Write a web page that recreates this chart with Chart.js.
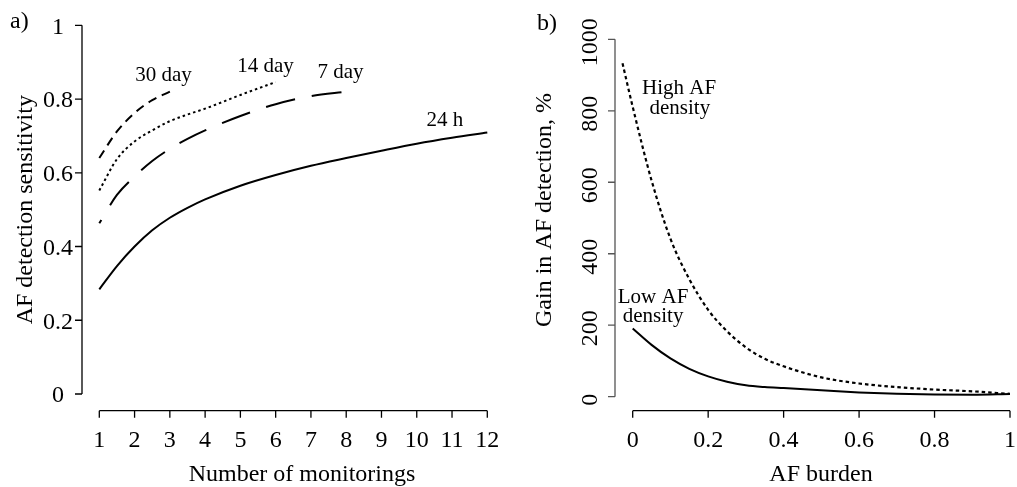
<!DOCTYPE html>
<html lang="en">
<head>
  <meta charset="UTF-8" />
  <title>AF detection sensitivity</title>
  <script src="https://cdn.jsdelivr.net/npm/chart.js"></script>
  <style>
    body { margin: 0; background: #fff; }
    .painel { position: relative; width: 1017px; height: 487px; }
    canvas { position: absolute; left: 0; top: 0; }
  </style>
</head>
<body>
  <div class="painel">
    <canvas id="graficoA" width="1017" height="487"></canvas>
    <canvas id="graficoB" width="1017" height="487"></canvas>
  </div>

  <script>
    // panel a) - sensitivity vs number of monitorings
    const monitorings = [1, 1.5, 2, 2.5, 3, 3.5, 4, 5, 6, 7, 8, 9, 10, 11, 12];
    const sens24h = [0.284, 0.347, 0.4, 0.444, 0.478, 0.505, 0.528, 0.565, 0.594, 0.619, 0.64, 0.66, 0.679, 0.695, 0.709];
    const sens7d  = [0.463, 0.54, 0.59, 0.632, 0.665, 0.692, 0.715, 0.754, 0.786, 0.808, 0.82];
    const sens14d = [0.552, 0.637, 0.685, 0.715, 0.74, 0.758, 0.774, 0.811, 0.846];
    const sens30d = [0.64, 0.712, 0.762, 0.797, 0.82];
    const ticksXa = ['1', '2', '3', '4', '5', '6', '7', '8', '9', '10', '11', '12'];
    const ticksYa = ['0', '0.2', '0.4', '0.6', '0.8', '1'];

    // panel b) - gain vs AF burden
    const burden   = [-0.027, 0, 0.05, 0.1, 0.15, 0.2, 0.25, 0.3, 0.35, 0.4, 0.5, 0.6, 0.7, 0.8, 0.9, 1];
    const gainHigh = [933, 811, 605, 442, 329, 243, 183, 138, 106, 85, 54, 37, 27, 20, 15, 8];
    const gainLow  = [null, 191, 145, 107, 78, 57, 42, 32, 27, 24, 18, 12, 8, 6, 5.5, 7.5];
    const ticksXb = ['0', '0.2', '0.4', '0.6', '0.8', '1'];
    const ticksYb = ['0', '200', '400', '600', '800', '1000'];

    const serif = "'Liberation Serif', 'Times New Roman', serif";

    function pontos(xs, ys) {
      return ys.map((y, i) => ({ x: xs[i], y: y }));
    }

    function serie(xs, ys, dash, largura, offset) {
      return {
        data: pontos(xs, ys),
        borderColor: '#000',
        borderWidth: largura || 2,
        borderDash: dash || [],
        borderDashOffset: offset || 0,
        pointRadius: 0,
        fill: false,
        clip: false,
        spanGaps: false,
        cubicInterpolationMode: 'monotone'
      };
    }

    // draws R-like detached axes, tick labels, titles and curve labels
    function eixos(o) {
      return {
        id: 'eixos',
        afterDraw(chart) {
          const ctx = chart.ctx;
          const sx = chart.scales.x, sy = chart.scales.y;
          const area = chart.chartArea;
          const ax = area.left - o.gapY;
          const ay = area.bottom + o.gapX;
          ctx.save();
          ctx.fillStyle = '#000';
          ctx.lineWidth = 1.3;

          // y axis
          ctx.strokeStyle = o.corY || '#000';
          ctx.beginPath();
          const yv = o.yLabels.map(Number);
          ctx.moveTo(ax, sy.getPixelForValue(yv[0]));
          ctx.lineTo(ax, sy.getPixelForValue(yv[yv.length - 1]));
          yv.forEach(v => {
            const p = sy.getPixelForValue(v);
            ctx.moveTo(ax, p);
            ctx.lineTo(ax - 7, p);
          });
          ctx.stroke();

          // x axis
          ctx.strokeStyle = '#000';
          ctx.beginPath();
          const xv = o.xLabels.map(Number);
          ctx.moveTo(sx.getPixelForValue(xv[0]), ay);
          ctx.lineTo(sx.getPixelForValue(xv[xv.length - 1]), ay);
          xv.forEach(v => {
            const p = sx.getPixelForValue(v);
            ctx.moveTo(p, ay);
            ctx.lineTo(p, ay + 7);
          });
          ctx.stroke();

          ctx.font = '24px ' + serif;
          ctx.textAlign = 'center';
          ctx.textBaseline = 'alphabetic';
          o.xLabels.forEach(t => {
            ctx.fillText(t, sx.getPixelForValue(Number(t)), ay + 36);
          });

          if (o.yRotated) {
            o.yLabels.forEach(t => {
              const p = sy.getPixelForValue(Number(t));
              ctx.save();
              ctx.translate(ax - 18.5, p + 3);
              ctx.rotate(-Math.PI / 2);
              ctx.fillText(t, 0, 0);
              ctx.restore();
            });
          } else {
            ctx.textBaseline = 'middle';
            o.yLabels.forEach(t => {
              ctx.fillText(t, ax - 24, sy.getPixelForValue(Number(t)) + 2);
            });
            ctx.textBaseline = 'alphabetic';
          }

          // titles
          ctx.fillText(o.tituloX, o.tituloXpos[0], o.tituloXpos[1]);
          ctx.save();
          ctx.translate(o.tituloYpos[0], o.tituloYpos[1]);
          ctx.rotate(-Math.PI / 2);
          ctx.fillText(o.tituloY, 0, 0);
          ctx.restore();

          ctx.textAlign = 'left';
          ctx.fillText(o.painel, o.painelPos[0], o.painelPos[1]);

          // curve labels
          ctx.font = '21px ' + serif;
          ctx.textAlign = 'center';
          o.notas.forEach(n => {
            ctx.fillText(n.texto, sx.getPixelForValue(n.x), sy.getPixelForValue(n.y));
          });
          ctx.restore();
        }
      };
    }

    function opcoes(xmin, xmax, ymin, ymax, pad) {
      return {
        responsive: false,
        animation: false,
        events: [],
        layout: { padding: pad },
        plugins: { legend: { display: false }, tooltip: { enabled: false } },
        scales: {
          x: { type: 'linear', min: xmin, max: xmax, display: false },
          y: { type: 'linear', min: ymin, max: ymax, display: false }
        }
      };
    }

    new Chart(document.getElementById('graficoA'), {
      type: 'line',
      data: {
        datasets: [
          serie(monitorings, sens24h, [], 2),
          serie(monitorings, sens7d, [30, 17], 2, 26),
          serie(monitorings, sens14d, [2.5, 3], 2),
          serie(monitorings, sens30d, [9, 6], 2)
        ]
      },
      options: opcoes(1, 12, 0, 1, { left: 99.3, right: 529.7, top: 25.3, bottom: 93 }),
      plugins: [eixos({
        gapY: 17.3, gapX: 16.7,
        xLabels: ticksXa, yLabels: ticksYa, yRotated: false,
        tituloX: 'Number of monitorings', tituloXpos: [302, 481],
        tituloY: 'AF detection sensitivity', tituloYpos: [31.5, 209.7],
        painel: 'a)', painelPos: [10, 28],
        notas: [
          { texto: '30 day', x: 2.82, y: 0.848 },
          { texto: '14 day', x: 5.71, y: 0.873 },
          { texto: '7 day', x: 7.84, y: 0.857 },
          { texto: '24 h', x: 10.8, y: 0.727 }
        ]
      })]
    });

    new Chart(document.getElementById('graficoB'), {
      type: 'line',
      data: {
        datasets: [
          serie(burden, gainLow, [], 2),
          serie(burden, gainHigh, [3.5, 3], 2.2)
        ]
      },
      options: opcoes(0, 1, 0, 1000, { left: 632.7, right: 7, top: 39.3, bottom: 90.3 }),
      plugins: [eixos({
        gapY: 17.7, gapX: 14, corY: '#555',
        xLabels: ticksXb, yLabels: ticksYb, yRotated: true,
        tituloX: 'AF burden', tituloXpos: [821, 481],
        tituloY: 'Gain in AF detection, %', tituloYpos: [551, 210],
        painel: 'b)', painelPos: [537, 30],
        notas: [
          { texto: 'High AF', x: 0.123, y: 848 },
          { texto: 'density', x: 0.125, y: 791 },
          { texto: 'Low AF', x: 0.054, y: 262 },
          { texto: 'density', x: 0.054, y: 209 }
        ]
      })]
    });
  </script>
</body>
</html>
